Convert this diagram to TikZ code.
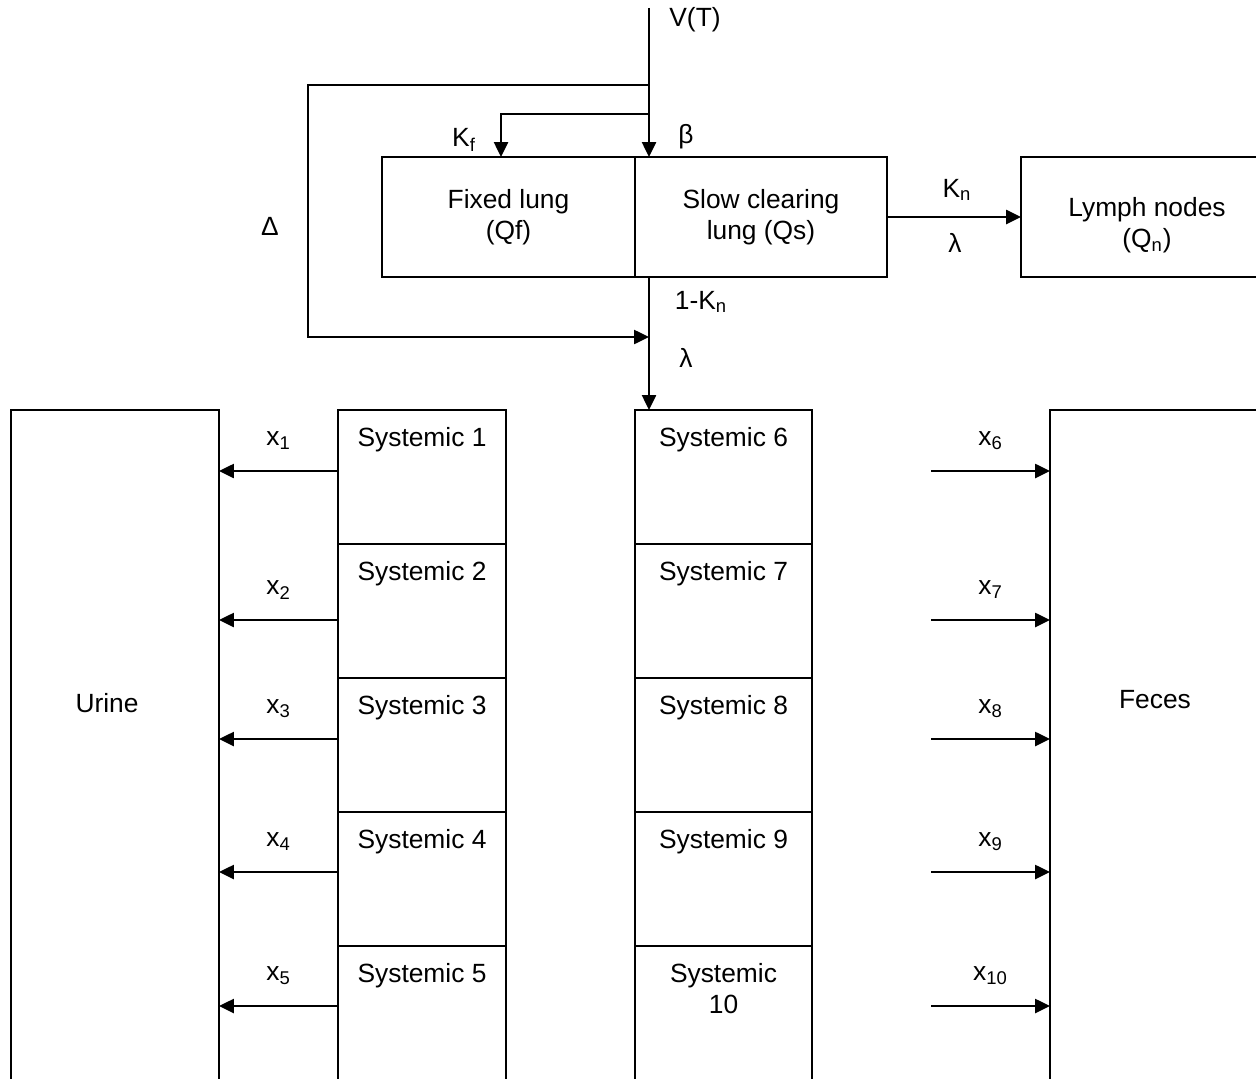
\documentclass[tikz,border=0pt]{standalone}
\usepackage{fontspec}
\setmainfont{Liberation Sans}
\usepackage{tikz}
\usetikzlibrary{positioning, arrows.meta}

\begin{document}
\begin{tikzpicture}[x=0.02cm, y=-0.02cm,
  font=\fontsize{15pt}{18pt}\selectfont,
  box/.style={draw, line width=1.1pt, inner sep=0pt, outer sep=0pt, align=center},
  cell/.style={box, minimum height=2.68cm},
  arr/.style={line width=1.2pt, -{Triangle[length=8.5pt, width=8pt]}},
  lbl/.style={inner sep=1pt, align=center}]
\useasboundingbox (0,0) rectangle (1256,1078);
\clip (0,0) rectangle (1256,1078);
% lung compartments
\node[box, minimum width=5.06cm, minimum height=2.4cm] (fixed) at (508.5,217) {Fixed lung\\(Qf)};
\node[box, minimum width=5.04cm, minimum height=2.4cm] (slow) at (761,217) {Slow clearing\\lung (Qs)};
\node[box, minimum width=5.04cm, minimum height=2.4cm] (lymph) at (1147,217) {};
\node[lbl] at (1147,225) {Lymph nodes\\(Q\textsubscript{n})};
% excretion
\node[box, minimum width=4.16cm, minimum height=13.8cm] (urine) at (115,755) {};
\node[box, minimum width=4.2cm, minimum height=13.8cm] (feces) at (1155,755) {};
\node[lbl] at (107,703) {Urine};
\node[lbl] at (1155,700) {Feces};
% systemic columns
\node[cell, minimum width=3.36cm, anchor=north] (s1) at (422,410) {};
\foreach \i [count=\p from 1] in {2,...,5}
  \node[cell, minimum width=3.36cm, below=0cm of s\p] (s\i) {};
\node[cell, minimum width=3.54cm, anchor=north] (s6) at (723.5,410) {};
\foreach \i [count=\p from 6] in {7,...,10}
  \node[cell, minimum width=3.54cm, below=0cm of s\p] (s\i) {};
\foreach \i in {1,...,9}
  \node[lbl, below=0.3cm of s\i.north] {Systemic \i};
\node[lbl, below=0.3cm of s10.north] {Systemic\\10};
% intake and branches
\coordinate (top) at (649,8);
\coordinate (j1) at (649,85);
\coordinate (j2) at (649,114);
\coordinate (dl) at (308,337);
\coordinate (mid) at (649,337);
\draw[arr] (top) -- (top |- slow.north);
\draw[arr] (j2) -| ([xshift=-0.15cm]fixed.north);
\draw[arr] (j1) -| (dl) -- (mid);
\draw[arr] (top |- slow.south) -- (top |- s6.north);
\draw[arr] (slow.east) -- (lymph.west);
\node[lbl] at (695,20) {V(T)};
\node[lbl] at (464,140) {K\textsubscript{f}};
\node[lbl] at (686,137) {β};
\node[lbl] at (270,226) {Δ};
\node[lbl] at (957,190) {K\textsubscript{n}};
\node[lbl] at (955,243) {λ};
\node[lbl] at (701,302) {1-K\textsubscript{n}};
\node[lbl] at (686,358) {λ};
% outflows
\foreach \i/\ay in {1/471,2/620,3/739,4/872,5/1006}
  \draw[arr] (s\i.west |- 0,\ay) -- node[lbl, yshift=0.6cm] {x\textsubscript{\i}} (urine.east |- 0,\ay);
\foreach \k/\ay in {6/471,7/620,8/739,9/872,10/1006}{
  \coordinate (r\k) at (931,\ay);
  \draw[arr] (r\k) -- node[lbl, yshift=0.6cm] {x\textsubscript{\k}} (feces.west |- r\k);
}
\end{tikzpicture}
\end{document}
